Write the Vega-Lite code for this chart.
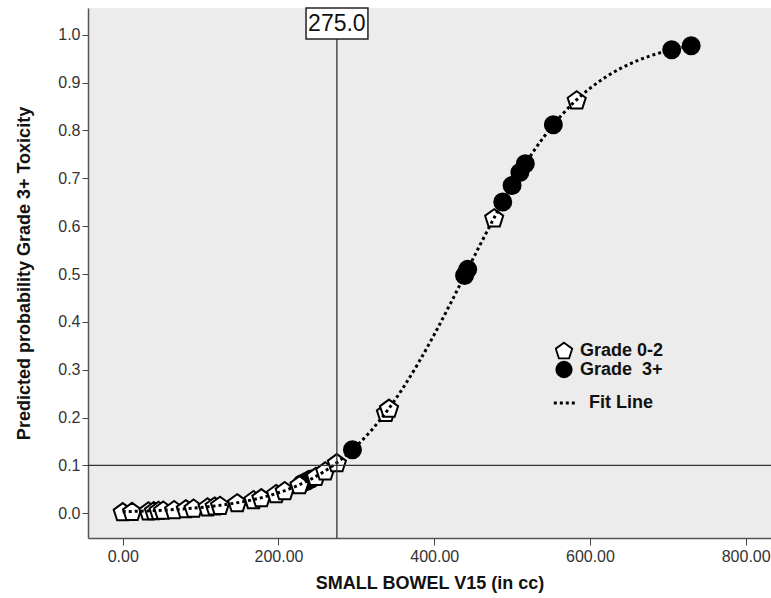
{
  "$schema": "https://vega.github.io/schema/vega-lite/v6.json",
  "width": 683,
  "height": 530,
  "autosize": {"type": "none"},
  "padding": {"left": 88, "top": 8, "right": 0, "bottom": 60},
  "background": "white",
  "config": {
    "view": {"fill": "#ececec", "stroke": null},
    "font": "Liberation Sans",
    "axis": {
      "grid": false,
      "labelFont": "Liberation Sans",
      "labelFontSize": 16,
      "labelColor": "#333333",
      "tickColor": "#444444",
      "domainColor": "#555555",
      "domainWidth": 1.5,
      "titleFont": "Liberation Sans",
      "titleFontSize": 18,
      "titleFontWeight": "bold",
      "titleColor": "#111111"
    },
    "legend": {
      "padding": 0,
      "rowPadding": 0,
      "labelFont": "Liberation Sans",
      "labelFontSize": 18,
      "labelFontWeight": "bold",
      "labelColor": "#111111",
      "symbolStrokeColor": "black"
    }
  },
  "datasets": {
    "patients": [
      {"grade": "Grade 0-2", "v15": 0, "prob": 0.0034},
      {"grade": "Grade 0-2", "v15": 12, "prob": 0.0039},
      {"grade": "Grade 0-2", "v15": 33, "prob": 0.0051},
      {"grade": "Grade 0-2", "v15": 40, "prob": 0.0056},
      {"grade": "Grade 0-2", "v15": 46, "prob": 0.0061},
      {"grade": "Grade 0-2", "v15": 52, "prob": 0.0066},
      {"grade": "Grade 0-2", "v15": 66, "prob": 0.0078},
      {"grade": "Grade 0-2", "v15": 81, "prob": 0.0095},
      {"grade": "Grade 0-2", "v15": 91, "prob": 0.0108},
      {"grade": "Grade 0-2", "v15": 109, "prob": 0.0136},
      {"grade": "Grade 0-2", "v15": 118, "prob": 0.0153},
      {"grade": "Grade 0-2", "v15": 125, "prob": 0.0167},
      {"grade": "Grade 0-2", "v15": 147, "prob": 0.0221},
      {"grade": "Grade 0-2", "v15": 168, "prob": 0.0287},
      {"grade": "Grade 0-2", "v15": 178, "prob": 0.0326},
      {"grade": "Grade 0-2", "v15": 197, "prob": 0.0413},
      {"grade": "Grade 0-2", "v15": 208, "prob": 0.0473},
      {"grade": "Grade  3+", "v15": 230, "prob": 0.0620},
      {"grade": "Grade  3+", "v15": 236, "prob": 0.0666},
      {"grade": "Grade  3+", "v15": 242, "prob": 0.0716},
      {"grade": "Grade 0-2", "v15": 227, "prob": 0.0597},
      {"grade": "Grade 0-2", "v15": 248, "prob": 0.0770},
      {"grade": "Grade 0-2", "v15": 260, "prob": 0.0887},
      {"grade": "Grade 0-2", "v15": 275, "prob": 0.1057},
      {"grade": "Grade  3+", "v15": 295, "prob": 0.1328},
      {"grade": "Grade 0-2", "v15": 338, "prob": 0.2108},
      {"grade": "Grade 0-2", "v15": 342, "prob": 0.2196},
      {"grade": "Grade  3+", "v15": 439, "prob": 0.4968},
      {"grade": "Grade  3+", "v15": 443, "prob": 0.5097},
      {"grade": "Grade 0-2", "v15": 477, "prob": 0.6175},
      {"grade": "Grade  3+", "v15": 488, "prob": 0.6505},
      {"grade": "Grade  3+", "v15": 500, "prob": 0.6849},
      {"grade": "Grade  3+", "v15": 510, "prob": 0.7121},
      {"grade": "Grade  3+", "v15": 517, "prob": 0.7303},
      {"grade": "Grade  3+", "v15": 553, "prob": 0.8118},
      {"grade": "Grade 0-2", "v15": 583, "prob": 0.8640},
      {"grade": "Grade  3+", "v15": 705, "prob": 0.9686},
      {"grade": "Grade  3+", "v15": 730, "prob": 0.9771}
    ],
    "fit": [
      {"series": "Fit Line", "v15": 0, "prob": 0.0034},
      {"series": "Fit Line", "v15": 20, "prob": 0.0043},
      {"series": "Fit Line", "v15": 40, "prob": 0.0056},
      {"series": "Fit Line", "v15": 60, "prob": 0.0073},
      {"series": "Fit Line", "v15": 80, "prob": 0.0094},
      {"series": "Fit Line", "v15": 100, "prob": 0.0121},
      {"series": "Fit Line", "v15": 120, "prob": 0.0157},
      {"series": "Fit Line", "v15": 140, "prob": 0.0202},
      {"series": "Fit Line", "v15": 160, "prob": 0.0260},
      {"series": "Fit Line", "v15": 180, "prob": 0.0334},
      {"series": "Fit Line", "v15": 200, "prob": 0.0429},
      {"series": "Fit Line", "v15": 220, "prob": 0.0549},
      {"series": "Fit Line", "v15": 240, "prob": 0.0699},
      {"series": "Fit Line", "v15": 260, "prob": 0.0887},
      {"series": "Fit Line", "v15": 280, "prob": 0.1120},
      {"series": "Fit Line", "v15": 300, "prob": 0.1404},
      {"series": "Fit Line", "v15": 320, "prob": 0.1747},
      {"series": "Fit Line", "v15": 340, "prob": 0.2152},
      {"series": "Fit Line", "v15": 360, "prob": 0.2621},
      {"series": "Fit Line", "v15": 380, "prob": 0.3151},
      {"series": "Fit Line", "v15": 400, "prob": 0.3734},
      {"series": "Fit Line", "v15": 420, "prob": 0.4355},
      {"series": "Fit Line", "v15": 440, "prob": 0.5000},
      {"series": "Fit Line", "v15": 460, "prob": 0.5644},
      {"series": "Fit Line", "v15": 480, "prob": 0.6266},
      {"series": "Fit Line", "v15": 500, "prob": 0.6849},
      {"series": "Fit Line", "v15": 520, "prob": 0.7379},
      {"series": "Fit Line", "v15": 540, "prob": 0.7848},
      {"series": "Fit Line", "v15": 560, "prob": 0.8253},
      {"series": "Fit Line", "v15": 580, "prob": 0.8596},
      {"series": "Fit Line", "v15": 600, "prob": 0.8880},
      {"series": "Fit Line", "v15": 620, "prob": 0.9112},
      {"series": "Fit Line", "v15": 640, "prob": 0.9301},
      {"series": "Fit Line", "v15": 660, "prob": 0.9452},
      {"series": "Fit Line", "v15": 680, "prob": 0.9571},
      {"series": "Fit Line", "v15": 700, "prob": 0.9666},
      {"series": "Fit Line", "v15": 720, "prob": 0.9740},
      {"series": "Fit Line", "v15": 730, "prob": 0.9771}
    ],
    "cutoff": [
      {"v15": 275, "label": "275.0", "boxFrom": 235.4, "boxTo": 314.9}
    ],
    "threshold": [
      {"prob": 0.1}
    ]
  },
  "layer": [
    {
      "data": {"name": "patients"},
      "transform": [
        {"lookup": "grade", "from": {"data": {"values": [
          {"grade": "Grade 0-2", "legendLabel": "Grade 0-2"},
          {"grade": "Grade  3+", "legendLabel": "Grade\u00a0 3+"}
        ]}, "key": "grade", "fields": ["legendLabel"]}}
      ],
      "mark": {"type": "point", "filled": true, "strokeWidth": 2, "opacity": 1, "size": 289},
      "encoding": {
        "x": {
          "field": "v15",
          "type": "quantitative",
          "title": "SMALL BOWEL V15 (in cc)",
          "scale": {"domain": [-44.6, 832.5], "nice": false, "zero": false},
          "axis": {"values": [0, 200, 400, 600, 800], "format": ".2f", "tickSize": 7, "labelPadding": 3, "titlePadding": 10}
        },
        "y": {
          "field": "prob",
          "type": "quantitative",
          "title": "Predicted probability Grade 3+ Toxicity",
          "scale": {"domain": [-0.0516, 1.0558], "nice": false, "zero": false},
          "axis": {"values": [0, 0.1, 0.2, 0.3, 0.4, 0.5, 0.6, 0.7, 0.8, 0.9, 1.0], "format": ".1f", "tickSize": 6, "labelPadding": 2, "titlePadding": 24}
        },
        "shape": {
          "field": "legendLabel",
          "type": "nominal",
          "scale": {"domain": ["Grade 0-2", "Grade\u00a0 3+"], "range": ["M0,-1.013L1.065,-0.239L0.659,1.013L-0.659,1.013L-1.065,-0.239Z", "circle"]},
          "legend": {
            "orient": "none", "legendX": 467, "legendY": 333, "title": null,
            "symbolStrokeWidth": 1.8, "symbolSize": 240, "labelOffset": 7, "rowPadding": 0, "clipHeight": 19
          }
        },
        "fill": {
          "field": "legendLabel",
          "type": "nominal",
          "scale": {"domain": ["Grade 0-2", "Grade\u00a0 3+"], "range": ["white", "black"]},
          "legend": {
            "orient": "none", "legendX": 467, "legendY": 333, "title": null,
            "symbolStrokeWidth": 1.8, "symbolSize": 240, "labelOffset": 7, "rowPadding": 0, "clipHeight": 19
          }
        },
        "stroke": {
          "field": "legendLabel",
          "type": "nominal",
          "scale": {"domain": ["Grade 0-2", "Grade\u00a0 3+"], "range": ["black", "black"]},
          "legend": {
            "orient": "none", "legendX": 467, "legendY": 333, "title": null,
            "symbolStrokeWidth": 1.8, "symbolSize": 240, "labelOffset": 7, "rowPadding": 0, "clipHeight": 19
          }
        }
      }
    },
    {
      "data": {"name": "fit"},
      "mark": {"type": "line", "color": "black", "strokeWidth": 3, "interpolate": "monotone"},
      "encoding": {
        "x": {"field": "v15", "type": "quantitative"},
        "y": {"field": "prob", "type": "quantitative"},
        "strokeDash": {
          "field": "series",
          "type": "nominal",
          "scale": {"domain": ["Fit Line"], "range": [[3, 3]]},
          "legend": {"orient": "none", "legendX": 464, "legendY": 382, "title": null, "symbolType": "stroke", "symbolStrokeWidth": 3, "symbolStrokeColor": "black", "symbolSize": 500, "labelOffset": 11}
        }
      }
    },
    {
      "data": {"name": "threshold"},
      "mark": {"type": "rule", "color": "#333333", "strokeWidth": 1.3},
      "encoding": {"y": {"field": "prob", "type": "quantitative"}}
    },
    {
      "data": {"name": "cutoff"},
      "mark": {"type": "rule", "color": "#333333", "strokeWidth": 1.3},
      "encoding": {"x": {"field": "v15", "type": "quantitative"}}
    },
    {
      "data": {"name": "cutoff"},
      "mark": {"type": "rect", "fill": "white", "stroke": "#222222", "strokeWidth": 1.5},
      "encoding": {
        "x": {"field": "boxFrom", "type": "quantitative"},
        "x2": {"field": "boxTo"},
        "y": {"datum": 0.991},
        "y2": {"datum": 1.0558}
      }
    },
    {
      "data": {"name": "cutoff"},
      "mark": {"type": "text", "fontSize": 23, "font": "Liberation Sans", "align": "center", "baseline": "middle", "color": "#111111"},
      "encoding": {
        "x": {"field": "v15", "type": "quantitative"},
        "y": {"datum": 1.0225},
        "text": {"field": "label"}
      }
    },
    {
      "mark": {"type": "rule", "color": "#555555", "strokeWidth": 2},
      "encoding": {"y": {"datum": 1.0558}}
    }
  ]
}
